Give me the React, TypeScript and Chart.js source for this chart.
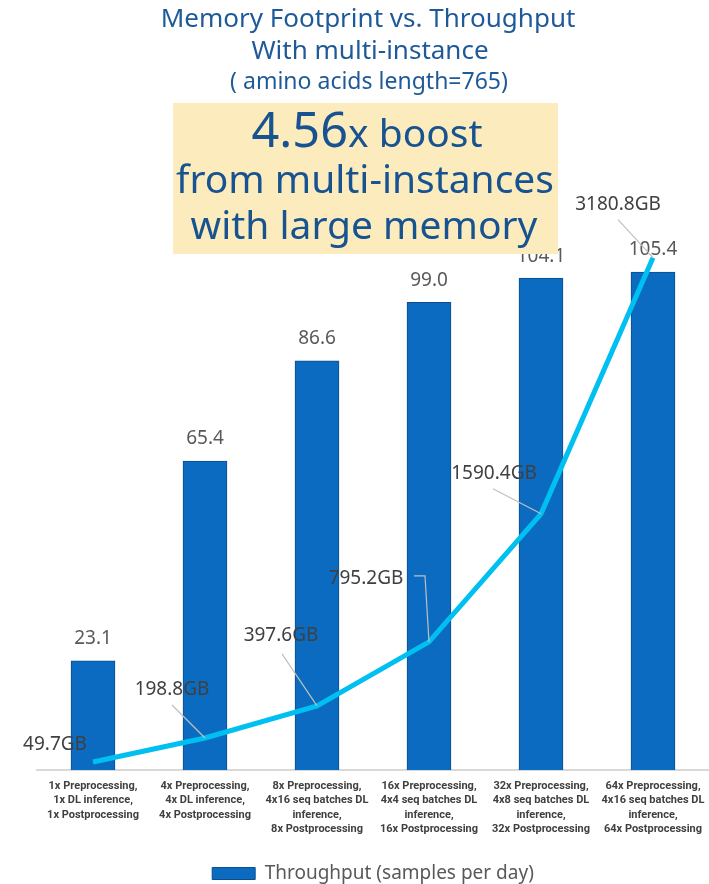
import React, { useEffect, useRef } from "react";
import { Chart, registerables } from "chart.js";

Chart.register(...registerables);

const categories: string[][] = [
  ["1x Preprocessing,", "1x DL inference,", "1x Postprocessing"],
  ["4x Preprocessing,", "4x DL inference,", "4x Postprocessing"],
  ["8x Preprocessing,", "4x16 seq batches DL", "inference,", "8x Postprocessing"],
  ["16x Preprocessing,", "4x4 seq batches DL", "inference,", "16x Postprocessing"],
  ["32x Preprocessing,", "4x8 seq batches DL", "inference,", "32x Postprocessing"],
  ["64x Preprocessing,", "4x16 seq batches DL", "inference,", "64x Postprocessing"],
];
const throughput = [23.1, 65.4, 86.6, 99.0, 104.1, 105.4];
const memoryGB = [49.7, 198.8, 397.6, 795.2, 1590.4, 3180.8];
const throughputLabels = ["23.1", "65.4", "86.6", "99.0", "104.1", "105.4"];
const memoryLabels = ["49.7GB", "198.8GB", "397.6GB", "795.2GB", "1590.4GB", "3180.8GB"];
const legendLabel = "Throughput (samples per day)";
const titleLines = ["Memory Footprint vs. Throughput", "With multi-instance", "( amino acids length=765)"];
const boostValue = "4.56";
const boostLines = ["x boost", "from multi-instances", "with large memory"];

const HEAD_FONT = "'Noto Sans', 'Open Sans', sans-serif";
const LABEL_FONT = "'Noto Sans', 'Open Sans', sans-serif";

function fitSize(ctx: CanvasRenderingContext2D, text: string, weight: string, family: string, width: number) {
  ctx.font = `${weight} 100px ${family}`;
  return (100 * width) / ctx.measureText(text).width;
}

const memOffsets = [
  { dx: -38, dy: -17, path: [] as number[][] },
  { dx: -33, dy: -48, path: [[-33, -33]] },
  { dx: -36, dy: -70, path: [[-35, -52]] },
  { dx: -63, dy: -63, path: [[-15, -66], [-4, -66]] },
  { dx: -47, dy: -40, path: [[-48, -25]] },
  { dx: -35, dy: -53, path: [[-35, -38]] },
];

const overlayPlugin = {
  id: "overlay",
  afterDatasetsDraw(chart: any) {
    const ctx: CanvasRenderingContext2D = chart.ctx;
    ctx.save();
    const barMeta = chart.getDatasetMeta(0);
    ctx.fillStyle = "#595959";
    ctx.font = `400 19px ${LABEL_FONT}`;
    ctx.textAlign = "center";
    ctx.textBaseline = "middle";
    barMeta.data.forEach((el: any, i: number) => {
      ctx.fillText(throughputLabels[i], el.x, el.y - 22);
    });
    const lineMeta = chart.getDatasetMeta(1);
    lineMeta.data.forEach((el: any, i: number) => {
      const o = memOffsets[i];
      if (o.path.length) {
        ctx.strokeStyle = "#bfbfbf";
        ctx.lineWidth = 1.2;
        ctx.beginPath();
        ctx.moveTo(el.x + o.path[0][0], el.y + o.path[0][1]);
        for (let k = 1; k < o.path.length; k++) ctx.lineTo(el.x + o.path[k][0], el.y + o.path[k][1]);
        ctx.lineTo(el.x, el.y);
        ctx.stroke();
      }
      ctx.fillStyle = "#404040";
      ctx.fillText(memoryLabels[i], el.x + o.dx, el.y + o.dy);
    });
    ctx.restore();
  },
  afterDraw(chart: any) {
    const ctx: CanvasRenderingContext2D = chart.ctx;
    ctx.save();
    ctx.textAlign = "center";
    ctx.textBaseline = "middle";
    ctx.fillStyle = "#1f5a98";
    const t1 = fitSize(ctx, titleLines[0], "400", HEAD_FONT, 415);
    ctx.font = `400 ${t1}px ${HEAD_FONT}`;
    ctx.fillText(titleLines[0], 368, 20);
    ctx.fillText(titleLines[1], 370, 52);
    const t3 = fitSize(ctx, titleLines[2], "400", HEAD_FONT, 278);
    ctx.font = `400 ${t3}px ${HEAD_FONT}`;
    ctx.fillText(titleLines[2], 369, 82);

    ctx.fillStyle = "#fcecbd";
    ctx.fillRect(173, 103, 385, 151);
    ctx.fillStyle = "#175291";
    const s2 = fitSize(ctx, boostLines[1], "400", HEAD_FONT, 378);
    const big = s2 * 1.25;
    ctx.font = `400 ${big}px ${HEAD_FONT}`;
    const w1 = ctx.measureText(boostValue).width;
    ctx.font = `400 ${s2}px ${HEAD_FONT}`;
    const w2 = ctx.measureText(boostLines[0]).width;
    const start = 367 - (w1 + w2) / 2;
    ctx.textAlign = "left";
    ctx.textBaseline = "alphabetic";
    ctx.font = `400 ${big}px ${HEAD_FONT}`;
    ctx.fillText(boostValue, start, 147);
    ctx.font = `400 ${s2}px ${HEAD_FONT}`;
    ctx.fillText(boostLines[0], start + w1, 147);
    ctx.textAlign = "center";
    ctx.textBaseline = "middle";
    ctx.fillText(boostLines[1], 365, 182);
    ctx.fillText(boostLines[2], 364, 228);
    ctx.restore();
  },
};

export default function App() {
  const ref = useRef<HTMLCanvasElement | null>(null);
  useEffect(() => {
    if (!ref.current) return;
    const chart = new Chart(ref.current, {
      type: "bar",
      data: {
        labels: categories,
        datasets: [
          {
            type: "bar",
            label: legendLabel,
            data: throughput,
            backgroundColor: "#0a6bc1",
            borderColor: "#0d4d8c",
            borderWidth: 1,
            barThickness: 44,
            yAxisID: "y",
            order: 2,
          },
          {
            type: "line",
            label: "Memory",
            data: memoryGB,
            borderColor: "#00c0f2",
            borderWidth: 5,
            pointRadius: 0,
            tension: 0,
            fill: false,
            yAxisID: "y2",
            order: 1,
          } as any,
        ],
      },
      options: {
        responsive: false,
        animation: false,
        devicePixelRatio: 1,
        layout: { padding: { top: 203, left: 37, right: 0, bottom: -9 } },
        scales: {
          x: {
            grid: { display: false, drawTicks: false },
            border: { display: true, color: "#d9d9d9", width: 2 },
            ticks: {
              autoSkip: false,
              maxRotation: 0,
              minRotation: 0,
              padding: 9,
              color: "#404040",
              font: { family: "Roboto, 'Liberation Sans', sans-serif", size: 11, weight: "bold", lineHeight: 1.3 },
            },
            afterFit: (scale: any) => {
              scale.height = 86;
              scale.paddingLeft = 0;
              scale.paddingRight = 0;
            },
          },
          y: { display: false, min: 0, max: 120 },
          y2: { display: false, min: 0, max: 3520, position: "right" },
        },
        plugins: {
          legend: {
            position: "bottom",
            labels: {
              filter: (item: any) => item.datasetIndex === 0,
              boxWidth: 43,
              boxHeight: 12,
              padding: 8,
              color: "#595959",
              font: { family: LABEL_FONT, size: 19 },
            },
          },
          tooltip: { enabled: false },
        },
      },
      plugins: [overlayPlugin],
    });
    return () => chart.destroy();
  }, []);
  return (
    <div style={{ position: "absolute", left: 0, top: 0, width: 709, height: 884, background: "#fff" }}>
      <canvas ref={ref} width={709} height={884} style={{ display: "block" }} />
    </div>
  );
}
